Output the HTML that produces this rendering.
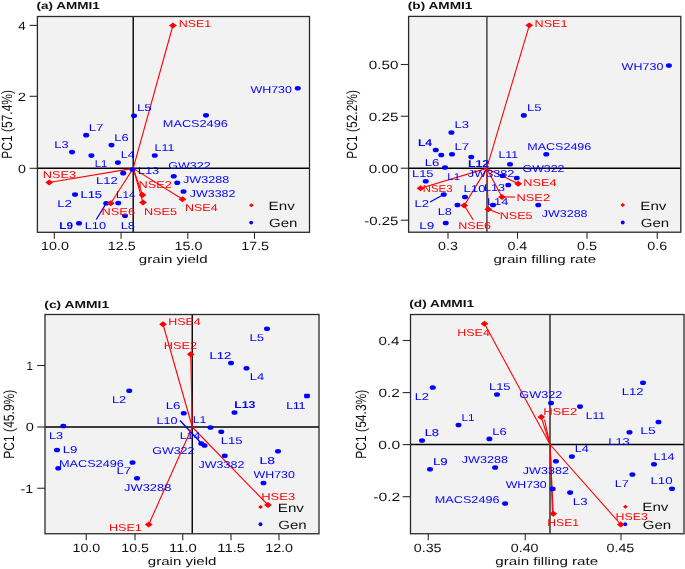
<!DOCTYPE html>
<html><head><meta charset="utf-8"><style>
html,body{margin:0;padding:0;background:#fff;}
body{width:685px;height:569px;overflow:hidden;font-family:"Liberation Sans",sans-serif;}
svg{display:block;filter:blur(0.35px);}
</style></head><body>
<svg width="685" height="569" viewBox="0 0 685 569" font-family="&quot;Liberation Sans&quot;, sans-serif" text-rendering="geometricPrecision">
<rect width="685" height="569" fill="#fff"/>
<rect x="37.4" y="16.5" width="272.1" height="215.8" fill="#f2f2f2"/>
<line x1="133.2" y1="16.5" x2="133.2" y2="232.3" stroke="#000" stroke-width="1.4"/>
<line x1="37.4" y1="168.3" x2="309.5" y2="168.3" stroke="#000" stroke-width="1.4"/>
<line x1="96.25" y1="219.5" x2="106.25" y2="203.25" stroke="#0000ff" stroke-width="1.3"/>
<line x1="133.2" y1="168.4" x2="172.9" y2="25.5" stroke="#ff0000" stroke-width="1.1"/>
<line x1="133.2" y1="168.4" x2="142.5" y2="195" stroke="#ff0000" stroke-width="1.1"/>
<line x1="133.2" y1="168.4" x2="49.25" y2="182.5" stroke="#ff0000" stroke-width="1.1"/>
<line x1="133.2" y1="168.4" x2="182.5" y2="199.25" stroke="#ff0000" stroke-width="1.1"/>
<line x1="133.2" y1="168.4" x2="143" y2="202.5" stroke="#ff0000" stroke-width="1.1"/>
<line x1="133.2" y1="168.4" x2="110.75" y2="203.25" stroke="#ff0000" stroke-width="1.1"/>
<ellipse cx="297.75" cy="88.25" rx="3.0" ry="2.35" fill="#0000ff"/>
<ellipse cx="206" cy="115.3" rx="3.0" ry="2.35" fill="#0000ff"/>
<ellipse cx="134" cy="115.75" rx="3.0" ry="2.35" fill="#0000ff"/>
<ellipse cx="86.2" cy="135.2" rx="3.0" ry="2.35" fill="#0000ff"/>
<ellipse cx="111.5" cy="145.1" rx="3.0" ry="2.35" fill="#0000ff"/>
<ellipse cx="72" cy="152.1" rx="3.0" ry="2.35" fill="#0000ff"/>
<ellipse cx="91.4" cy="155.6" rx="3.0" ry="2.35" fill="#0000ff"/>
<ellipse cx="117.9" cy="162.6" rx="3.0" ry="2.35" fill="#0000ff"/>
<ellipse cx="154.75" cy="155.5" rx="3.0" ry="2.35" fill="#0000ff"/>
<ellipse cx="132.5" cy="169.5" rx="3.0" ry="2.35" fill="#0000ff"/>
<ellipse cx="123.2" cy="173.2" rx="3.0" ry="2.35" fill="#0000ff"/>
<ellipse cx="173.75" cy="176.25" rx="3.0" ry="2.35" fill="#0000ff"/>
<ellipse cx="177.25" cy="182.75" rx="3.0" ry="2.35" fill="#0000ff"/>
<ellipse cx="183.5" cy="191.5" rx="3.0" ry="2.35" fill="#0000ff"/>
<ellipse cx="75" cy="194.5" rx="3.0" ry="2.35" fill="#0000ff"/>
<ellipse cx="106.25" cy="203.25" rx="3.0" ry="2.35" fill="#0000ff"/>
<ellipse cx="118.25" cy="203" rx="3.0" ry="2.35" fill="#0000ff"/>
<ellipse cx="125" cy="215.75" rx="3.0" ry="2.35" fill="#0000ff"/>
<ellipse cx="79" cy="223.25" rx="3.0" ry="2.35" fill="#0000ff"/>
<polygon points="169.00,25.5 172.9,22.60 176.80,25.5 172.9,28.40" fill="#ff0000"/>
<polygon points="138.60,195 142.5,192.10 146.40,195 142.5,197.90" fill="#ff0000"/>
<polygon points="45.35,182.5 49.25,179.60 53.15,182.5 49.25,185.40" fill="#ff0000"/>
<polygon points="178.60,199.25 182.5,196.35 186.40,199.25 182.5,202.15" fill="#ff0000"/>
<polygon points="139.10,202.5 143,199.60 146.90,202.5 143,205.40" fill="#ff0000"/>
<polygon points="106.85,203.25 110.75,200.35 114.65,203.25 110.75,206.15" fill="#ff0000"/>
<text x="178.79" y="26.60" font-size="10.0" fill="#ff0000" textLength="32.32" lengthAdjust="spacingAndGlyphs">NSE1</text>
<text x="138.45" y="188.05" font-size="10.0" fill="#ff0000" textLength="33.44" lengthAdjust="spacingAndGlyphs">NSE2</text>
<text x="42.70" y="178.05" font-size="10.0" fill="#ff0000" textLength="33.36" lengthAdjust="spacingAndGlyphs">NSE3</text>
<text x="184.98" y="211.30" font-size="10.0" fill="#ff0000" textLength="32.64" lengthAdjust="spacingAndGlyphs">NSE4</text>
<text x="143.96" y="215.05" font-size="10.0" fill="#ff0000" textLength="33.07" lengthAdjust="spacingAndGlyphs">NSE5</text>
<text x="101.44" y="214.80" font-size="10.0" fill="#ff0000" textLength="33.62" lengthAdjust="spacingAndGlyphs">NSE6</text>
<text x="250.45" y="92.80" font-size="10.0" fill="#0000ff" textLength="41.54" lengthAdjust="spacingAndGlyphs">WH730</text>
<text x="162.86" y="126.85" font-size="10.0" fill="#0000ff" textLength="64.90" lengthAdjust="spacingAndGlyphs">MACS2496</text>
<text x="136.90" y="111.05" font-size="10.0" fill="#0000ff" textLength="14.91" lengthAdjust="spacingAndGlyphs">L5</text>
<text x="88.71" y="130.65" font-size="10.0" fill="#0000ff" textLength="14.76" lengthAdjust="spacingAndGlyphs">L7</text>
<text x="114.34" y="140.65" font-size="10.0" fill="#0000ff" textLength="14.32" lengthAdjust="spacingAndGlyphs">L6</text>
<text x="54.24" y="148.15" font-size="10.0" fill="#0000ff" textLength="14.32" lengthAdjust="spacingAndGlyphs">L3</text>
<text x="94.78" y="167.45" font-size="10.0" fill="#0000ff" textLength="12.47" lengthAdjust="spacingAndGlyphs">L1</text>
<text x="120.78" y="158.15" font-size="10.0" fill="#0000ff" textLength="13.78" lengthAdjust="spacingAndGlyphs">L4</text>
<text x="154.53" y="151.05" font-size="10.0" fill="#0000ff" textLength="19.80" lengthAdjust="spacingAndGlyphs">L11</text>
<text x="168.37" y="168.55" font-size="10.0" fill="#0000ff" textLength="42.25" lengthAdjust="spacingAndGlyphs">GW322</text>
<text x="137.69" y="174.30" font-size="10.0" fill="#0000ff" textLength="21.63" lengthAdjust="spacingAndGlyphs">L13</text>
<text x="95.93" y="183.55" font-size="10.0" fill="#0000ff" textLength="21.72" lengthAdjust="spacingAndGlyphs">L12</text>
<text x="183.05" y="182.80" font-size="10.0" fill="#0000ff" textLength="46.24" lengthAdjust="spacingAndGlyphs">JW3288</text>
<text x="189.81" y="197.05" font-size="10.0" fill="#0000ff" textLength="45.57" lengthAdjust="spacingAndGlyphs">JW3382</text>
<text x="80.44" y="198.05" font-size="10.0" fill="#0000ff" stroke="#0000ff" stroke-width="0.12" textLength="21.61" lengthAdjust="spacingAndGlyphs">L15</text>
<text x="116.05" y="197.80" font-size="10.0" fill="#0000ff" textLength="19.29" lengthAdjust="spacingAndGlyphs">L14</text>
<text x="57.16" y="206.55" font-size="10.0" fill="#0000ff" textLength="14.76" lengthAdjust="spacingAndGlyphs">L2</text>
<text x="120.69" y="228.55" font-size="10.0" fill="#0000ff" textLength="14.37" lengthAdjust="spacingAndGlyphs">L8</text>
<text x="59.21" y="229.30" font-size="10.0" fill="#0000ff" font-weight="bold" textLength="13.72" lengthAdjust="spacingAndGlyphs">L9</text>
<text x="84.70" y="228.55" font-size="10.0" fill="#0000ff" textLength="21.30" lengthAdjust="spacingAndGlyphs">L10</text>
<rect x="37.4" y="16.5" width="272.1" height="215.8" fill="none" stroke="#2a2a2a" stroke-width="1.3"/>
<line x1="29.599999999999998" y1="25.4" x2="37.4" y2="25.4" stroke="#2a2a2a" stroke-width="1.1"/>
<text x="18.19" y="29.80" font-size="12" fill="#111" textLength="7.51" lengthAdjust="spacingAndGlyphs">4</text>
<line x1="29.599999999999998" y1="96.3" x2="37.4" y2="96.3" stroke="#2a2a2a" stroke-width="1.1"/>
<text x="17.75" y="100.70" font-size="12" fill="#111" textLength="8.30" lengthAdjust="spacingAndGlyphs">2</text>
<line x1="29.599999999999998" y1="168.3" x2="37.4" y2="168.3" stroke="#2a2a2a" stroke-width="1.1"/>
<text x="17.94" y="172.70" font-size="12" fill="#111" textLength="7.91" lengthAdjust="spacingAndGlyphs">0</text>
<line x1="54.3" y1="232.3" x2="54.3" y2="238.8" stroke="#2a2a2a" stroke-width="1.1"/>
<text x="41.04" y="249.60" font-size="12" fill="#111" textLength="27.79" lengthAdjust="spacingAndGlyphs">10.0</text>
<line x1="121.1" y1="232.3" x2="121.1" y2="238.8" stroke="#2a2a2a" stroke-width="1.1"/>
<text x="107.86" y="249.60" font-size="12" fill="#111" textLength="27.79" lengthAdjust="spacingAndGlyphs">12.5</text>
<line x1="187.8" y1="232.3" x2="187.8" y2="238.8" stroke="#2a2a2a" stroke-width="1.1"/>
<text x="174.54" y="249.60" font-size="12" fill="#111" textLength="27.79" lengthAdjust="spacingAndGlyphs">15.0</text>
<line x1="254.5" y1="232.3" x2="254.5" y2="238.8" stroke="#2a2a2a" stroke-width="1.1"/>
<text x="241.26" y="249.60" font-size="12" fill="#111" textLength="27.79" lengthAdjust="spacingAndGlyphs">17.5</text>
<text x="36.53" y="9.10" font-size="10.2" fill="#111" font-weight="bold" textLength="63.34" lengthAdjust="spacingAndGlyphs">(a) AMMI1</text>
<text x="138.87" y="262.50" font-size="11.2" fill="#111" textLength="68.70" lengthAdjust="spacingAndGlyphs">grain yield</text>
<text transform="rotate(-90)" x="-158.68" y="11.60" font-size="14.8" fill="#111" textLength="68.63" lengthAdjust="spacingAndGlyphs">PC1 (57.4%)</text>
<polygon points="249.00,205.3 251.4,203.30 253.80,205.3 251.4,207.30" fill="#ff0000"/>
<circle cx="251.2" cy="222.6" r="1.9" fill="#0000ff"/>
<text x="268.55" y="209.90" font-size="12" fill="#111" textLength="26.20" lengthAdjust="spacingAndGlyphs">Env</text>
<text x="269.04" y="227.10" font-size="12" fill="#111" textLength="28.43" lengthAdjust="spacingAndGlyphs">Gen</text>
<rect x="408.6" y="16.4" width="272.19999999999993" height="215.79999999999998" fill="#f2f2f2"/>
<line x1="486.9" y1="16.4" x2="486.9" y2="232.2" stroke="#3a3a3a" stroke-width="1.4"/>
<line x1="408.6" y1="168.2" x2="680.8" y2="168.2" stroke="#000" stroke-width="1.4"/>
<line x1="430" y1="202" x2="443.75" y2="194.5" stroke="#0000ff" stroke-width="1.3"/>
<line x1="486.7" y1="168.4" x2="529.3" y2="25.3" stroke="#ff0000" stroke-width="1.1"/>
<line x1="486.7" y1="168.4" x2="420.5" y2="188.25" stroke="#ff0000" stroke-width="1.1"/>
<line x1="486.7" y1="168.4" x2="518.25" y2="183.75" stroke="#ff0000" stroke-width="1.1"/>
<line x1="486.7" y1="168.4" x2="502" y2="197" stroke="#ff0000" stroke-width="1.1"/>
<line x1="486.7" y1="168.4" x2="488.25" y2="209.25" stroke="#ff0000" stroke-width="1.1"/>
<line x1="486.7" y1="168.4" x2="464.25" y2="205.5" stroke="#ff0000" stroke-width="1.1"/>
<line x1="502" y1="197" x2="515" y2="197" stroke="#ff0000" stroke-width="1.1"/>
<line x1="488.25" y1="209.25" x2="500" y2="213.75" stroke="#ff0000" stroke-width="1.1"/>
<line x1="464.25" y1="205.5" x2="473.25" y2="220" stroke="#ff0000" stroke-width="1.1"/>
<ellipse cx="668.9" cy="65.5" rx="3.0" ry="2.35" fill="#0000ff"/>
<ellipse cx="523.8" cy="115.4" rx="3.0" ry="2.35" fill="#0000ff"/>
<ellipse cx="451.4" cy="132.5" rx="3.0" ry="2.35" fill="#0000ff"/>
<ellipse cx="435.75" cy="150" rx="3.0" ry="2.35" fill="#0000ff"/>
<ellipse cx="441.25" cy="155" rx="3.0" ry="2.35" fill="#0000ff"/>
<ellipse cx="452" cy="154.25" rx="3.0" ry="2.35" fill="#0000ff"/>
<ellipse cx="471.25" cy="157" rx="3.0" ry="2.35" fill="#0000ff"/>
<ellipse cx="546.25" cy="154.25" rx="3.0" ry="2.35" fill="#0000ff"/>
<ellipse cx="445" cy="167.5" rx="3.0" ry="2.35" fill="#0000ff"/>
<ellipse cx="510" cy="164.25" rx="3.0" ry="2.35" fill="#0000ff"/>
<ellipse cx="425.75" cy="181.25" rx="3.0" ry="2.35" fill="#0000ff"/>
<ellipse cx="502.5" cy="175.75" rx="3.0" ry="2.35" fill="#0000ff"/>
<ellipse cx="516.75" cy="178" rx="3.0" ry="2.35" fill="#0000ff"/>
<ellipse cx="443.75" cy="194.5" rx="3.0" ry="2.35" fill="#0000ff"/>
<ellipse cx="465" cy="197" rx="3.0" ry="2.35" fill="#0000ff"/>
<ellipse cx="508.25" cy="185" rx="3.0" ry="2.35" fill="#0000ff"/>
<ellipse cx="493" cy="205" rx="3.0" ry="2.35" fill="#0000ff"/>
<ellipse cx="538.25" cy="205" rx="3.0" ry="2.35" fill="#0000ff"/>
<ellipse cx="457.5" cy="205" rx="3.0" ry="2.35" fill="#0000ff"/>
<ellipse cx="445.75" cy="223" rx="3.0" ry="2.35" fill="#0000ff"/>
<polygon points="525.40,25.3 529.3,22.40 533.20,25.3 529.3,28.20" fill="#ff0000"/>
<polygon points="416.60,188.25 420.5,185.35 424.40,188.25 420.5,191.15" fill="#ff0000"/>
<polygon points="514.35,183.75 518.25,180.85 522.15,183.75 518.25,186.65" fill="#ff0000"/>
<polygon points="498.10,197 502,194.10 505.90,197 502,199.90" fill="#ff0000"/>
<polygon points="484.35,209.25 488.25,206.35 492.15,209.25 488.25,212.15" fill="#ff0000"/>
<polygon points="460.35,205.5 464.25,202.60 468.15,205.5 464.25,208.40" fill="#ff0000"/>
<text x="534.56" y="26.85" font-size="10.0" fill="#ff0000" textLength="33.06" lengthAdjust="spacingAndGlyphs">NSE1</text>
<text x="422.82" y="192.30" font-size="10.0" fill="#ff0000" textLength="29.68" lengthAdjust="spacingAndGlyphs">NSE3</text>
<text x="523.20" y="186.05" font-size="10.0" fill="#ff0000" textLength="33.42" lengthAdjust="spacingAndGlyphs">NSE4</text>
<text x="516.44" y="200.55" font-size="10.0" fill="#ff0000" textLength="33.71" lengthAdjust="spacingAndGlyphs">NSE2</text>
<text x="499.72" y="218.55" font-size="10.0" fill="#ff0000" textLength="32.81" lengthAdjust="spacingAndGlyphs">NSE5</text>
<text x="458.22" y="229.05" font-size="10.0" fill="#ff0000" textLength="32.83" lengthAdjust="spacingAndGlyphs">NSE6</text>
<text x="621.64" y="70.05" font-size="10.0" fill="#0000ff" textLength="41.74" lengthAdjust="spacingAndGlyphs">WH730</text>
<text x="526.92" y="110.95" font-size="10.0" fill="#0000ff" textLength="14.63" lengthAdjust="spacingAndGlyphs">L5</text>
<text x="454.53" y="128.25" font-size="10.0" fill="#0000ff" textLength="14.55" lengthAdjust="spacingAndGlyphs">L3</text>
<text x="417.94" y="146.05" font-size="10.0" fill="#0000ff" font-weight="bold" textLength="14.12" lengthAdjust="spacingAndGlyphs">L4</text>
<text x="454.41" y="149.80" font-size="10.0" fill="#0000ff" textLength="14.76" lengthAdjust="spacingAndGlyphs">L7</text>
<text x="527.22" y="149.80" font-size="10.0" fill="#0000ff" textLength="64.08" lengthAdjust="spacingAndGlyphs">MACS2496</text>
<text x="424.67" y="165.55" font-size="10.0" fill="#0000ff" textLength="14.66" lengthAdjust="spacingAndGlyphs">L6</text>
<text x="467.92" y="166.80" font-size="10.0" fill="#0000ff" font-weight="bold" textLength="21.32" lengthAdjust="spacingAndGlyphs">L12</text>
<text x="498.54" y="157.80" font-size="10.0" fill="#0000ff" textLength="19.53" lengthAdjust="spacingAndGlyphs">L11</text>
<text x="522.63" y="172.30" font-size="10.0" fill="#0000ff" textLength="41.74" lengthAdjust="spacingAndGlyphs">GW322</text>
<text x="411.94" y="176.80" font-size="10.0" fill="#0000ff" textLength="21.61" lengthAdjust="spacingAndGlyphs">L15</text>
<text x="447.31" y="179.80" font-size="10.0" fill="#0000ff" textLength="12.75" lengthAdjust="spacingAndGlyphs">L1</text>
<text x="467.80" y="177.30" font-size="10.0" fill="#0000ff" textLength="46.59" lengthAdjust="spacingAndGlyphs">JW3382</text>
<text x="414.43" y="206.55" font-size="10.0" fill="#0000ff" textLength="14.47" lengthAdjust="spacingAndGlyphs">L2</text>
<text x="463.41" y="192.30" font-size="10.0" fill="#0000ff" textLength="22.10" lengthAdjust="spacingAndGlyphs">L10</text>
<text x="483.96" y="191.05" font-size="10.0" fill="#0000ff" textLength="21.09" lengthAdjust="spacingAndGlyphs">L13</text>
<text x="486.95" y="204.80" font-size="10.0" fill="#0000ff" textLength="21.43" lengthAdjust="spacingAndGlyphs">L14</text>
<text x="541.81" y="216.80" font-size="10.0" fill="#0000ff" textLength="45.74" lengthAdjust="spacingAndGlyphs">JW3288</text>
<text x="437.71" y="215.30" font-size="10.0" fill="#0000ff" textLength="14.09" lengthAdjust="spacingAndGlyphs">L8</text>
<text x="419.39" y="229.05" font-size="10.0" fill="#0000ff" textLength="14.99" lengthAdjust="spacingAndGlyphs">L9</text>
<rect x="408.6" y="16.4" width="272.19999999999993" height="215.79999999999998" fill="none" stroke="#2a2a2a" stroke-width="1.3"/>
<line x1="400.8" y1="64.5" x2="408.6" y2="64.5" stroke="#2a2a2a" stroke-width="1.1"/>
<text x="368.81" y="68.90" font-size="12" fill="#111" textLength="29.59" lengthAdjust="spacingAndGlyphs">0.50</text>
<line x1="400.8" y1="116.25" x2="408.6" y2="116.25" stroke="#2a2a2a" stroke-width="1.1"/>
<text x="368.81" y="120.65" font-size="12" fill="#111" textLength="29.63" lengthAdjust="spacingAndGlyphs">0.25</text>
<line x1="400.8" y1="168.2" x2="408.6" y2="168.2" stroke="#2a2a2a" stroke-width="1.1"/>
<text x="368.81" y="172.60" font-size="12" fill="#111" textLength="29.59" lengthAdjust="spacingAndGlyphs">0.00</text>
<line x1="400.8" y1="220.2" x2="408.6" y2="220.2" stroke="#2a2a2a" stroke-width="1.1"/>
<text x="364.34" y="224.60" font-size="12" fill="#111" textLength="34.09" lengthAdjust="spacingAndGlyphs">-0.25</text>
<line x1="448" y1="232.2" x2="448" y2="238.7" stroke="#2a2a2a" stroke-width="1.1"/>
<text x="438.01" y="249.50" font-size="12" fill="#111" textLength="19.85" lengthAdjust="spacingAndGlyphs">0.3</text>
<line x1="517.5" y1="232.2" x2="517.5" y2="238.7" stroke="#2a2a2a" stroke-width="1.1"/>
<text x="507.40" y="249.50" font-size="12" fill="#111" textLength="19.85" lengthAdjust="spacingAndGlyphs">0.4</text>
<line x1="587" y1="232.2" x2="587" y2="238.7" stroke="#2a2a2a" stroke-width="1.1"/>
<text x="577.00" y="249.50" font-size="12" fill="#111" textLength="19.85" lengthAdjust="spacingAndGlyphs">0.5</text>
<line x1="657.25" y1="232.2" x2="657.25" y2="238.7" stroke="#2a2a2a" stroke-width="1.1"/>
<text x="647.26" y="249.50" font-size="12" fill="#111" textLength="19.85" lengthAdjust="spacingAndGlyphs">0.6</text>
<text x="407.83" y="9.10" font-size="10.2" fill="#111" font-weight="bold" textLength="64.55" lengthAdjust="spacingAndGlyphs">(b) AMMI1</text>
<text x="493.46" y="262.50" font-size="11.2" fill="#111" textLength="102.61" lengthAdjust="spacingAndGlyphs">grain filling rate</text>
<text transform="rotate(-90)" x="-158.68" y="357.00" font-size="14.8" fill="#111" textLength="68.63" lengthAdjust="spacingAndGlyphs">PC1 (52.2%)</text>
<polygon points="620.35,205 622.75,203.00 625.15,205 622.75,207.00" fill="#ff0000"/>
<circle cx="622.75" cy="222.5" r="1.9" fill="#0000ff"/>
<text x="640.25" y="209.60" font-size="12" fill="#111" textLength="26.20" lengthAdjust="spacingAndGlyphs">Env</text>
<text x="640.74" y="227.00" font-size="12" fill="#111" textLength="28.43" lengthAdjust="spacingAndGlyphs">Gen</text>
<rect x="45" y="314.5" width="274" height="219.25" fill="#f2f2f2"/>
<line x1="192.25" y1="314.5" x2="192.25" y2="533.75" stroke="#000" stroke-width="1.4"/>
<line x1="45" y1="427" x2="319" y2="427" stroke="#000" stroke-width="1.4"/>
<line x1="180" y1="420.5" x2="202.5" y2="444.5" stroke="#0000ff" stroke-width="1.3"/>
<line x1="192.25" y1="427" x2="163" y2="324.25" stroke="#ff0000" stroke-width="1.1"/>
<line x1="192.25" y1="427" x2="190.75" y2="354.25" stroke="#ff0000" stroke-width="1.1"/>
<line x1="192.25" y1="427" x2="148.75" y2="524.5" stroke="#ff0000" stroke-width="1.1"/>
<line x1="192.25" y1="427" x2="268" y2="505" stroke="#ff0000" stroke-width="1.1"/>
<ellipse cx="267" cy="328.75" rx="3.0" ry="2.35" fill="#0000ff"/>
<ellipse cx="231" cy="363" rx="3.0" ry="2.35" fill="#0000ff"/>
<ellipse cx="246.5" cy="368.25" rx="3.0" ry="2.35" fill="#0000ff"/>
<ellipse cx="129.25" cy="390.75" rx="3.0" ry="2.35" fill="#0000ff"/>
<rect x="304.1" y="393.8" width="5.8" height="4.4" rx="1.1" fill="#0000ff"/>
<ellipse cx="183.75" cy="413.25" rx="3.0" ry="2.35" fill="#0000ff"/>
<ellipse cx="234.5" cy="412.5" rx="3.0" ry="2.35" fill="#0000ff"/>
<ellipse cx="210.5" cy="427.5" rx="3.0" ry="2.35" fill="#0000ff"/>
<ellipse cx="63.25" cy="426" rx="3.0" ry="2.35" fill="#0000ff"/>
<ellipse cx="221.25" cy="431.75" rx="3.0" ry="2.35" fill="#0000ff"/>
<ellipse cx="201.25" cy="443.5" rx="3.0" ry="2.35" fill="#0000ff"/>
<ellipse cx="204.5" cy="445.5" rx="3.0" ry="2.35" fill="#0000ff"/>
<ellipse cx="57" cy="450" rx="3.0" ry="2.35" fill="#0000ff"/>
<ellipse cx="278" cy="451.25" rx="3.0" ry="2.35" fill="#0000ff"/>
<ellipse cx="224.75" cy="455.75" rx="3.0" ry="2.35" fill="#0000ff"/>
<ellipse cx="132.5" cy="462.5" rx="3.0" ry="2.35" fill="#0000ff"/>
<ellipse cx="58.25" cy="468.25" rx="3.0" ry="2.35" fill="#0000ff"/>
<ellipse cx="263.5" cy="483" rx="3.0" ry="2.35" fill="#0000ff"/>
<ellipse cx="137" cy="478.25" rx="3.0" ry="2.35" fill="#0000ff"/>
<polygon points="159.10,324.25 163,321.35 166.90,324.25 163,327.15" fill="#ff0000"/>
<polygon points="186.85,354.25 190.75,351.35 194.65,354.25 190.75,357.15" fill="#ff0000"/>
<polygon points="144.85,524.5 148.75,521.60 152.65,524.5 148.75,527.40" fill="#ff0000"/>
<polygon points="264.10,505 268,502.10 271.90,505 268,507.90" fill="#ff0000"/>
<text x="168.18" y="325.30" font-size="10.0" fill="#ff0000" textLength="32.59" lengthAdjust="spacingAndGlyphs">HSE4</text>
<text x="163.75" y="349.05" font-size="10.0" fill="#ff0000" textLength="33.39" lengthAdjust="spacingAndGlyphs">HSE2</text>
<text x="108.97" y="531.05" font-size="10.0" fill="#ff0000" textLength="32.90" lengthAdjust="spacingAndGlyphs">HSE1</text>
<text x="261.18" y="499.80" font-size="10.0" fill="#ff0000" textLength="34.15" lengthAdjust="spacingAndGlyphs">HSE3</text>
<text x="249.42" y="341.05" font-size="10.0" fill="#0000ff" textLength="14.63" lengthAdjust="spacingAndGlyphs">L5</text>
<text x="209.43" y="358.55" font-size="10.0" fill="#0000ff" stroke="#0000ff" stroke-width="0.12" textLength="21.72" lengthAdjust="spacingAndGlyphs">L12</text>
<text x="249.68" y="380.30" font-size="10.0" fill="#0000ff" textLength="14.45" lengthAdjust="spacingAndGlyphs">L4</text>
<text x="111.95" y="402.80" font-size="10.0" fill="#0000ff" textLength="14.19" lengthAdjust="spacingAndGlyphs">L2</text>
<text x="286.32" y="408.55" font-size="10.0" fill="#0000ff" stroke="#0000ff" stroke-width="0.12" textLength="18.99" lengthAdjust="spacingAndGlyphs">L11</text>
<text x="165.65" y="409.05" font-size="10.0" fill="#0000ff" textLength="14.94" lengthAdjust="spacingAndGlyphs">L6</text>
<text x="234.17" y="408.05" font-size="10.0" fill="#0000ff" font-weight="bold" textLength="21.27" lengthAdjust="spacingAndGlyphs">L13</text>
<text x="156.47" y="423.55" font-size="10.0" fill="#0000ff" textLength="21.03" lengthAdjust="spacingAndGlyphs">L10</text>
<text x="192.75" y="423.05" font-size="10.0" fill="#0000ff" textLength="13.60" lengthAdjust="spacingAndGlyphs">L1</text>
<text x="48.96" y="438.55" font-size="10.0" fill="#0000ff" textLength="14.10" lengthAdjust="spacingAndGlyphs">L3</text>
<text x="220.67" y="444.05" font-size="10.0" fill="#0000ff" textLength="21.88" lengthAdjust="spacingAndGlyphs">L15</text>
<text x="179.74" y="438.55" font-size="10.0" fill="#0000ff" textLength="20.63" lengthAdjust="spacingAndGlyphs">L14</text>
<text x="62.67" y="452.80" font-size="10.0" fill="#0000ff" textLength="14.71" lengthAdjust="spacingAndGlyphs">L9</text>
<text x="152.38" y="453.55" font-size="10.0" fill="#0000ff" textLength="42.00" lengthAdjust="spacingAndGlyphs">GW322</text>
<text x="259.61" y="463.55" font-size="10.0" fill="#0000ff" stroke="#0000ff" stroke-width="0.12" textLength="15.50" lengthAdjust="spacingAndGlyphs">L8</text>
<text x="198.55" y="467.80" font-size="10.0" fill="#0000ff" textLength="45.82" lengthAdjust="spacingAndGlyphs">JW3382</text>
<text x="116.41" y="474.30" font-size="10.0" fill="#0000ff" textLength="14.76" lengthAdjust="spacingAndGlyphs">L7</text>
<text x="58.96" y="466.80" font-size="10.0" fill="#0000ff" textLength="64.85" lengthAdjust="spacingAndGlyphs">MACS2496</text>
<text x="253.55" y="478.30" font-size="10.0" fill="#0000ff" textLength="41.34" lengthAdjust="spacingAndGlyphs">WH730</text>
<text x="124.05" y="490.55" font-size="10.0" fill="#0000ff" textLength="47.26" lengthAdjust="spacingAndGlyphs">JW3288</text>
<rect x="45" y="314.5" width="274" height="219.25" fill="none" stroke="#2a2a2a" stroke-width="1.3"/>
<line x1="37.2" y1="365.5" x2="45" y2="365.5" stroke="#2a2a2a" stroke-width="1.1"/>
<text x="26.62" y="369.90" font-size="12" fill="#111" textLength="6.45" lengthAdjust="spacingAndGlyphs">1</text>
<line x1="37.2" y1="427" x2="45" y2="427" stroke="#2a2a2a" stroke-width="1.1"/>
<text x="25.73" y="431.40" font-size="12" fill="#111" textLength="8.14" lengthAdjust="spacingAndGlyphs">0</text>
<line x1="37.2" y1="488.25" x2="45" y2="488.25" stroke="#2a2a2a" stroke-width="1.1"/>
<text x="20.62" y="492.65" font-size="12" fill="#111" textLength="12.57" lengthAdjust="spacingAndGlyphs">-1</text>
<line x1="86.25" y1="533.75" x2="86.25" y2="540.25" stroke="#2a2a2a" stroke-width="1.1"/>
<text x="72.49" y="551.65" font-size="12" fill="#111" textLength="27.79" lengthAdjust="spacingAndGlyphs">10.0</text>
<line x1="135" y1="533.75" x2="135" y2="540.25" stroke="#2a2a2a" stroke-width="1.1"/>
<text x="121.26" y="551.65" font-size="12" fill="#111" textLength="27.79" lengthAdjust="spacingAndGlyphs">10.5</text>
<line x1="182.75" y1="533.75" x2="182.75" y2="540.25" stroke="#2a2a2a" stroke-width="1.1"/>
<text x="168.99" y="551.65" font-size="12" fill="#111" textLength="27.79" lengthAdjust="spacingAndGlyphs">11.0</text>
<line x1="231" y1="533.75" x2="231" y2="540.25" stroke="#2a2a2a" stroke-width="1.1"/>
<text x="217.26" y="551.65" font-size="12" fill="#111" textLength="27.79" lengthAdjust="spacingAndGlyphs">11.5</text>
<line x1="279" y1="533.75" x2="279" y2="540.25" stroke="#2a2a2a" stroke-width="1.1"/>
<text x="265.24" y="551.65" font-size="12" fill="#111" textLength="27.79" lengthAdjust="spacingAndGlyphs">12.0</text>
<text x="44.32" y="307.80" font-size="10.2" fill="#111" font-weight="bold" textLength="64.82" lengthAdjust="spacingAndGlyphs">(c) AMMI1</text>
<text x="147.77" y="564.50" font-size="11.2" fill="#111" textLength="68.70" lengthAdjust="spacingAndGlyphs">grain yield</text>
<text transform="rotate(-90)" x="-458.69" y="14.30" font-size="14.8" fill="#111" textLength="69.04" lengthAdjust="spacingAndGlyphs">PC1 (45.9%)</text>
<polygon points="258.10,507 260.5,505.00 262.90,507 260.5,509.00" fill="#ff0000"/>
<circle cx="260.5" cy="524.25" r="1.9" fill="#0000ff"/>
<text x="277.75" y="511.60" font-size="12" fill="#111" textLength="26.20" lengthAdjust="spacingAndGlyphs">Env</text>
<text x="278.24" y="528.75" font-size="12" fill="#111" textLength="28.43" lengthAdjust="spacingAndGlyphs">Gen</text>
<rect x="410.5" y="314.5" width="273.5" height="219.25" fill="#f2f2f2"/>
<line x1="550" y1="314.5" x2="550" y2="533.75" stroke="#222" stroke-width="1.4"/>
<line x1="410.5" y1="444.5" x2="684" y2="444.5" stroke="#000" stroke-width="1.4"/>
<line x1="550" y1="444.5" x2="484.5" y2="323.75" stroke="#ff0000" stroke-width="1.1"/>
<line x1="550" y1="444.5" x2="541.25" y2="417" stroke="#ff0000" stroke-width="1.1"/>
<line x1="550" y1="444.5" x2="553.25" y2="513.75" stroke="#ff0000" stroke-width="1.1"/>
<line x1="550" y1="444.5" x2="620.75" y2="524.5" stroke="#ff0000" stroke-width="1.1"/>
<line x1="544.5" y1="419.5" x2="550" y2="444.5" stroke="#ff0000" stroke-width="1.1"/>
<line x1="552.4" y1="512" x2="550.6" y2="455" stroke="#ff0000" stroke-width="1.1"/>
<ellipse cx="643" cy="382.75" rx="3.0" ry="2.35" fill="#0000ff"/>
<ellipse cx="432.75" cy="387.5" rx="3.0" ry="2.35" fill="#0000ff"/>
<ellipse cx="497" cy="394.5" rx="3.0" ry="2.35" fill="#0000ff"/>
<ellipse cx="551" cy="403" rx="3.0" ry="2.35" fill="#0000ff"/>
<ellipse cx="580" cy="406.6" rx="3.0" ry="2.35" fill="#0000ff"/>
<ellipse cx="658.5" cy="422" rx="3.0" ry="2.35" fill="#0000ff"/>
<ellipse cx="458.5" cy="425" rx="3.0" ry="2.35" fill="#0000ff"/>
<ellipse cx="629.5" cy="432.25" rx="3.0" ry="2.35" fill="#0000ff"/>
<ellipse cx="422" cy="440.5" rx="3.0" ry="2.35" fill="#0000ff"/>
<ellipse cx="489.4" cy="438.9" rx="3.0" ry="2.35" fill="#0000ff"/>
<ellipse cx="571.9" cy="456.5" rx="3.0" ry="2.35" fill="#0000ff"/>
<ellipse cx="555.9" cy="461.25" rx="3.0" ry="2.35" fill="#0000ff"/>
<ellipse cx="654" cy="464.25" rx="3.0" ry="2.35" fill="#0000ff"/>
<ellipse cx="495.1" cy="467.5" rx="3.0" ry="2.35" fill="#0000ff"/>
<ellipse cx="430" cy="469.25" rx="3.0" ry="2.35" fill="#0000ff"/>
<ellipse cx="632.4" cy="474.5" rx="3.0" ry="2.35" fill="#0000ff"/>
<ellipse cx="552.6" cy="488.9" rx="3.0" ry="2.35" fill="#0000ff"/>
<ellipse cx="672" cy="488.75" rx="3.0" ry="2.35" fill="#0000ff"/>
<ellipse cx="570.1" cy="492.6" rx="3.0" ry="2.35" fill="#0000ff"/>
<ellipse cx="505.1" cy="503.5" rx="3.0" ry="2.35" fill="#0000ff"/>
<polygon points="480.60,323.75 484.5,320.85 488.40,323.75 484.5,326.65" fill="#ff0000"/>
<polygon points="537.35,417 541.25,414.10 545.15,417 541.25,419.90" fill="#ff0000"/>
<polygon points="549.35,513.75 553.25,510.85 557.15,513.75 553.25,516.65" fill="#ff0000"/>
<polygon points="616.85,524.5 620.75,521.60 624.65,524.5 620.75,527.40" fill="#ff0000"/>
<text x="457.23" y="336.05" font-size="10.0" fill="#ff0000" textLength="32.64" lengthAdjust="spacingAndGlyphs">HSE4</text>
<text x="543.17" y="414.80" font-size="10.0" fill="#ff0000" textLength="34.23" lengthAdjust="spacingAndGlyphs">HSE2</text>
<text x="547.25" y="526.05" font-size="10.0" fill="#ff0000" textLength="31.85" lengthAdjust="spacingAndGlyphs">HSE1</text>
<text x="615.49" y="519.80" font-size="10.0" fill="#ff0000" textLength="32.31" lengthAdjust="spacingAndGlyphs">HSE3</text>
<text x="621.68" y="394.80" font-size="10.0" fill="#0000ff" textLength="21.72" lengthAdjust="spacingAndGlyphs">L12</text>
<text x="414.70" y="399.80" font-size="10.0" fill="#0000ff" textLength="14.19" lengthAdjust="spacingAndGlyphs">L2</text>
<text x="488.94" y="389.80" font-size="10.0" fill="#0000ff" textLength="21.61" lengthAdjust="spacingAndGlyphs">L15</text>
<text x="519.36" y="398.05" font-size="10.0" fill="#0000ff" textLength="43.03" lengthAdjust="spacingAndGlyphs">GW322</text>
<text x="585.80" y="418.55" font-size="10.0" fill="#0000ff" textLength="19.26" lengthAdjust="spacingAndGlyphs">L11</text>
<text x="640.36" y="433.55" font-size="10.0" fill="#0000ff" textLength="15.48" lengthAdjust="spacingAndGlyphs">L5</text>
<text x="461.54" y="421.05" font-size="10.0" fill="#0000ff" textLength="13.03" lengthAdjust="spacingAndGlyphs">L1</text>
<text x="608.19" y="444.80" font-size="10.0" fill="#0000ff" textLength="21.63" lengthAdjust="spacingAndGlyphs">L13</text>
<text x="424.69" y="436.05" font-size="10.0" fill="#0000ff" stroke="#0000ff" stroke-width="0.12" textLength="14.37" lengthAdjust="spacingAndGlyphs">L8</text>
<text x="492.19" y="434.55" font-size="10.0" fill="#0000ff" textLength="14.38" lengthAdjust="spacingAndGlyphs">L6</text>
<text x="574.71" y="452.30" font-size="10.0" fill="#0000ff" textLength="14.17" lengthAdjust="spacingAndGlyphs">L4</text>
<text x="522.80" y="473.55" font-size="10.0" fill="#0000ff" textLength="46.08" lengthAdjust="spacingAndGlyphs">JW3382</text>
<text x="653.47" y="459.80" font-size="10.0" fill="#0000ff" textLength="20.89" lengthAdjust="spacingAndGlyphs">L14</text>
<text x="461.80" y="462.80" font-size="10.0" fill="#0000ff" textLength="46.24" lengthAdjust="spacingAndGlyphs">JW3288</text>
<text x="432.92" y="464.80" font-size="10.0" fill="#0000ff" stroke="#0000ff" stroke-width="0.12" textLength="14.71" lengthAdjust="spacingAndGlyphs">L9</text>
<text x="614.70" y="486.80" font-size="10.0" fill="#0000ff" textLength="14.19" lengthAdjust="spacingAndGlyphs">L7</text>
<text x="505.70" y="488.05" font-size="10.0" fill="#0000ff" textLength="41.03" lengthAdjust="spacingAndGlyphs">WH730</text>
<text x="650.41" y="484.05" font-size="10.0" fill="#0000ff" textLength="22.10" lengthAdjust="spacingAndGlyphs">L10</text>
<text x="572.81" y="504.55" font-size="10.0" fill="#0000ff" textLength="14.77" lengthAdjust="spacingAndGlyphs">L3</text>
<text x="434.71" y="502.80" font-size="10.0" fill="#0000ff" textLength="64.85" lengthAdjust="spacingAndGlyphs">MACS2496</text>
<rect x="410.5" y="314.5" width="273.5" height="219.25" fill="none" stroke="#2a2a2a" stroke-width="1.3"/>
<line x1="402.7" y1="340.5" x2="410.5" y2="340.5" stroke="#2a2a2a" stroke-width="1.1"/>
<text x="378.41" y="344.90" font-size="12" fill="#111" textLength="21.03" lengthAdjust="spacingAndGlyphs">0.4</text>
<line x1="402.7" y1="392.6" x2="410.5" y2="392.6" stroke="#2a2a2a" stroke-width="1.1"/>
<text x="378.40" y="397.00" font-size="12" fill="#111" textLength="21.37" lengthAdjust="spacingAndGlyphs">0.2</text>
<line x1="402.7" y1="444.6" x2="410.5" y2="444.6" stroke="#2a2a2a" stroke-width="1.1"/>
<text x="378.39" y="449.00" font-size="12" fill="#111" textLength="21.72" lengthAdjust="spacingAndGlyphs">0.0</text>
<line x1="402.7" y1="496.7" x2="410.5" y2="496.7" stroke="#2a2a2a" stroke-width="1.1"/>
<text x="373.30" y="501.10" font-size="12" fill="#111" textLength="26.98" lengthAdjust="spacingAndGlyphs">-0.2</text>
<line x1="428.25" y1="533.75" x2="428.25" y2="540.25" stroke="#2a2a2a" stroke-width="1.1"/>
<text x="413.77" y="551.65" font-size="12" fill="#111" textLength="27.79" lengthAdjust="spacingAndGlyphs">0.35</text>
<line x1="525.25" y1="533.75" x2="525.25" y2="540.25" stroke="#2a2a2a" stroke-width="1.1"/>
<text x="510.75" y="551.65" font-size="12" fill="#111" textLength="27.79" lengthAdjust="spacingAndGlyphs">0.40</text>
<line x1="621" y1="533.75" x2="621" y2="540.25" stroke="#2a2a2a" stroke-width="1.1"/>
<text x="606.52" y="551.65" font-size="12" fill="#111" textLength="27.79" lengthAdjust="spacingAndGlyphs">0.45</text>
<text x="409.32" y="307.40" font-size="10.2" fill="#111" font-weight="bold" textLength="64.80" lengthAdjust="spacingAndGlyphs">(d) AMMI1</text>
<text x="495.36" y="564.50" font-size="11.2" fill="#111" textLength="102.81" lengthAdjust="spacingAndGlyphs">grain filling rate</text>
<text transform="rotate(-90)" x="-458.69" y="366.40" font-size="14.8" fill="#111" textLength="69.04" lengthAdjust="spacingAndGlyphs">PC1 (54.3%)</text>
<polygon points="623.00,506.75 625.4,504.75 627.80,506.75 625.4,508.75" fill="#ff0000"/>
<circle cx="625.25" cy="524.25" r="1.9" fill="#0000ff"/>
<text x="642.25" y="511.35" font-size="12" fill="#111" textLength="26.20" lengthAdjust="spacingAndGlyphs">Env</text>
<text x="642.74" y="528.75" font-size="12" fill="#111" textLength="28.43" lengthAdjust="spacingAndGlyphs">Gen</text>
</svg>
</body></html>
